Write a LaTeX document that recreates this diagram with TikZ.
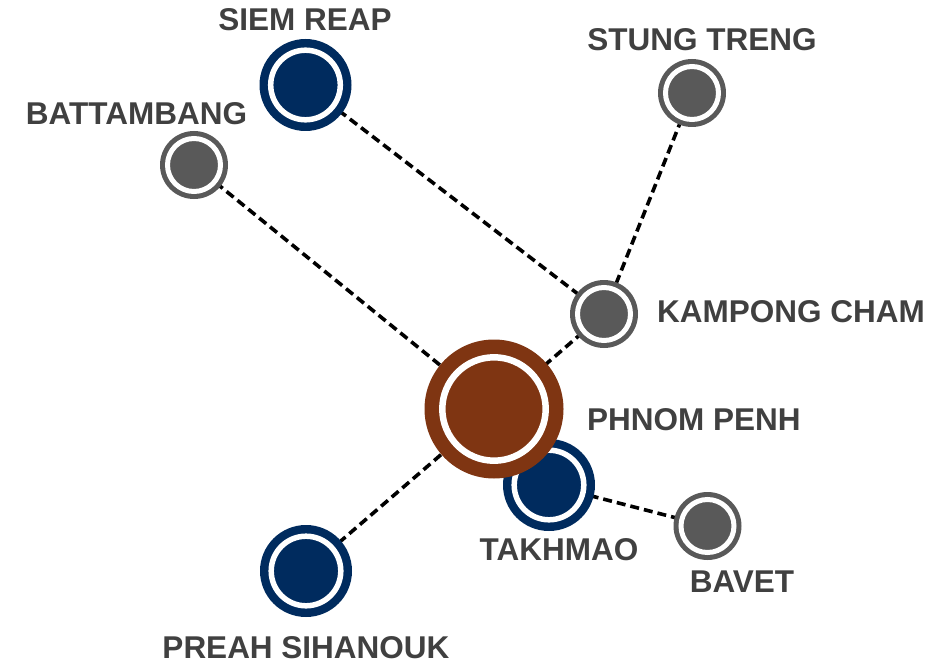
\documentclass[tikz,border=0pt]{standalone}
\usepackage{fontspec}
\setmainfont{Liberation Sans}
\usetikzlibrary{backgrounds}
\definecolor{navy}{HTML}{002B5E}
\definecolor{rust}{HTML}{7F3512}
\definecolor{stone}{HTML}{595959}
\definecolor{ink}{HTML}{404040}
\tikzset{
  city/.style n args={4}{circle, inner sep=0pt, minimum size=#2, fill=#1,
    path picture={\draw[white, line width=#4]
      (path picture bounding box.center) circle[radius=#3];}},
  capital/.style={city={rust}{139pt}{51.7pt}{6.5pt}},
  major/.style={city={navy}{92pt}{34.8pt}{5.5pt}},
  minor/.style={city={stone}{68pt}{26.5pt}{5pt}},
  lbl/.style={font=\bfseries\fontsize{31.5}{34}\selectfont, text=ink, inner sep=0pt},
  link/.style={black, line width=3.6pt, dash pattern=on 9pt off 5pt}
}
\begin{document}
\begin{tikzpicture}[x=1pt, y=-1pt]
  \useasboundingbox (0,0) rectangle (945,666);
  % cities
  \node[major]   (sr) at (305.5,85) {};
  \node[minor]   (bb) at (194,165) {};
  \node[minor]   (st) at (692,93) {};
  \node[minor]   (kc) at (604,314) {};
  \node[major]   (tk) at (549,485) {};
  \node[capital] (pp) at (494,409) {};
  \node[minor]   (bv) at (707.5,526) {};
  \node[major]   (ps) at (306,571) {};
  % roads
  \begin{scope}[on background layer]
    \draw[link] (sr.center) -- (kc.center);
    \draw[link] (st.center) -- (kc.center);
    \draw[link] (kc.center) -- (pp.center);
    \draw[link] (bb.center) -- (pp.center);
    \draw[link] (pp.center) -- (ps.center);
    \draw[link] (tk.center) -- (bv.center);
  \end{scope}
  % names
  \node[lbl] (lsr) at (305,20) {SIEM REAP};
  \node[lbl] (lst) at (702,40) {STUNG TRENG};
  \node[lbl] (lbb) at (136.5,114) {BATTAMBANG};
  \node[lbl, anchor=west] (lkc) at (657,312) {KAMPONG CHAM};
  \node[lbl, anchor=west] (lpp) at (587,420) {PHNOM PENH};
  \node[lbl] (ltk) at (559,550) {TAKHMAO};
  \node[lbl] (lbv) at (742,582) {BAVET};
  \node[lbl] (lps) at (306,648) {PREAH SIHANOUK};
\end{tikzpicture}
\end{document}
